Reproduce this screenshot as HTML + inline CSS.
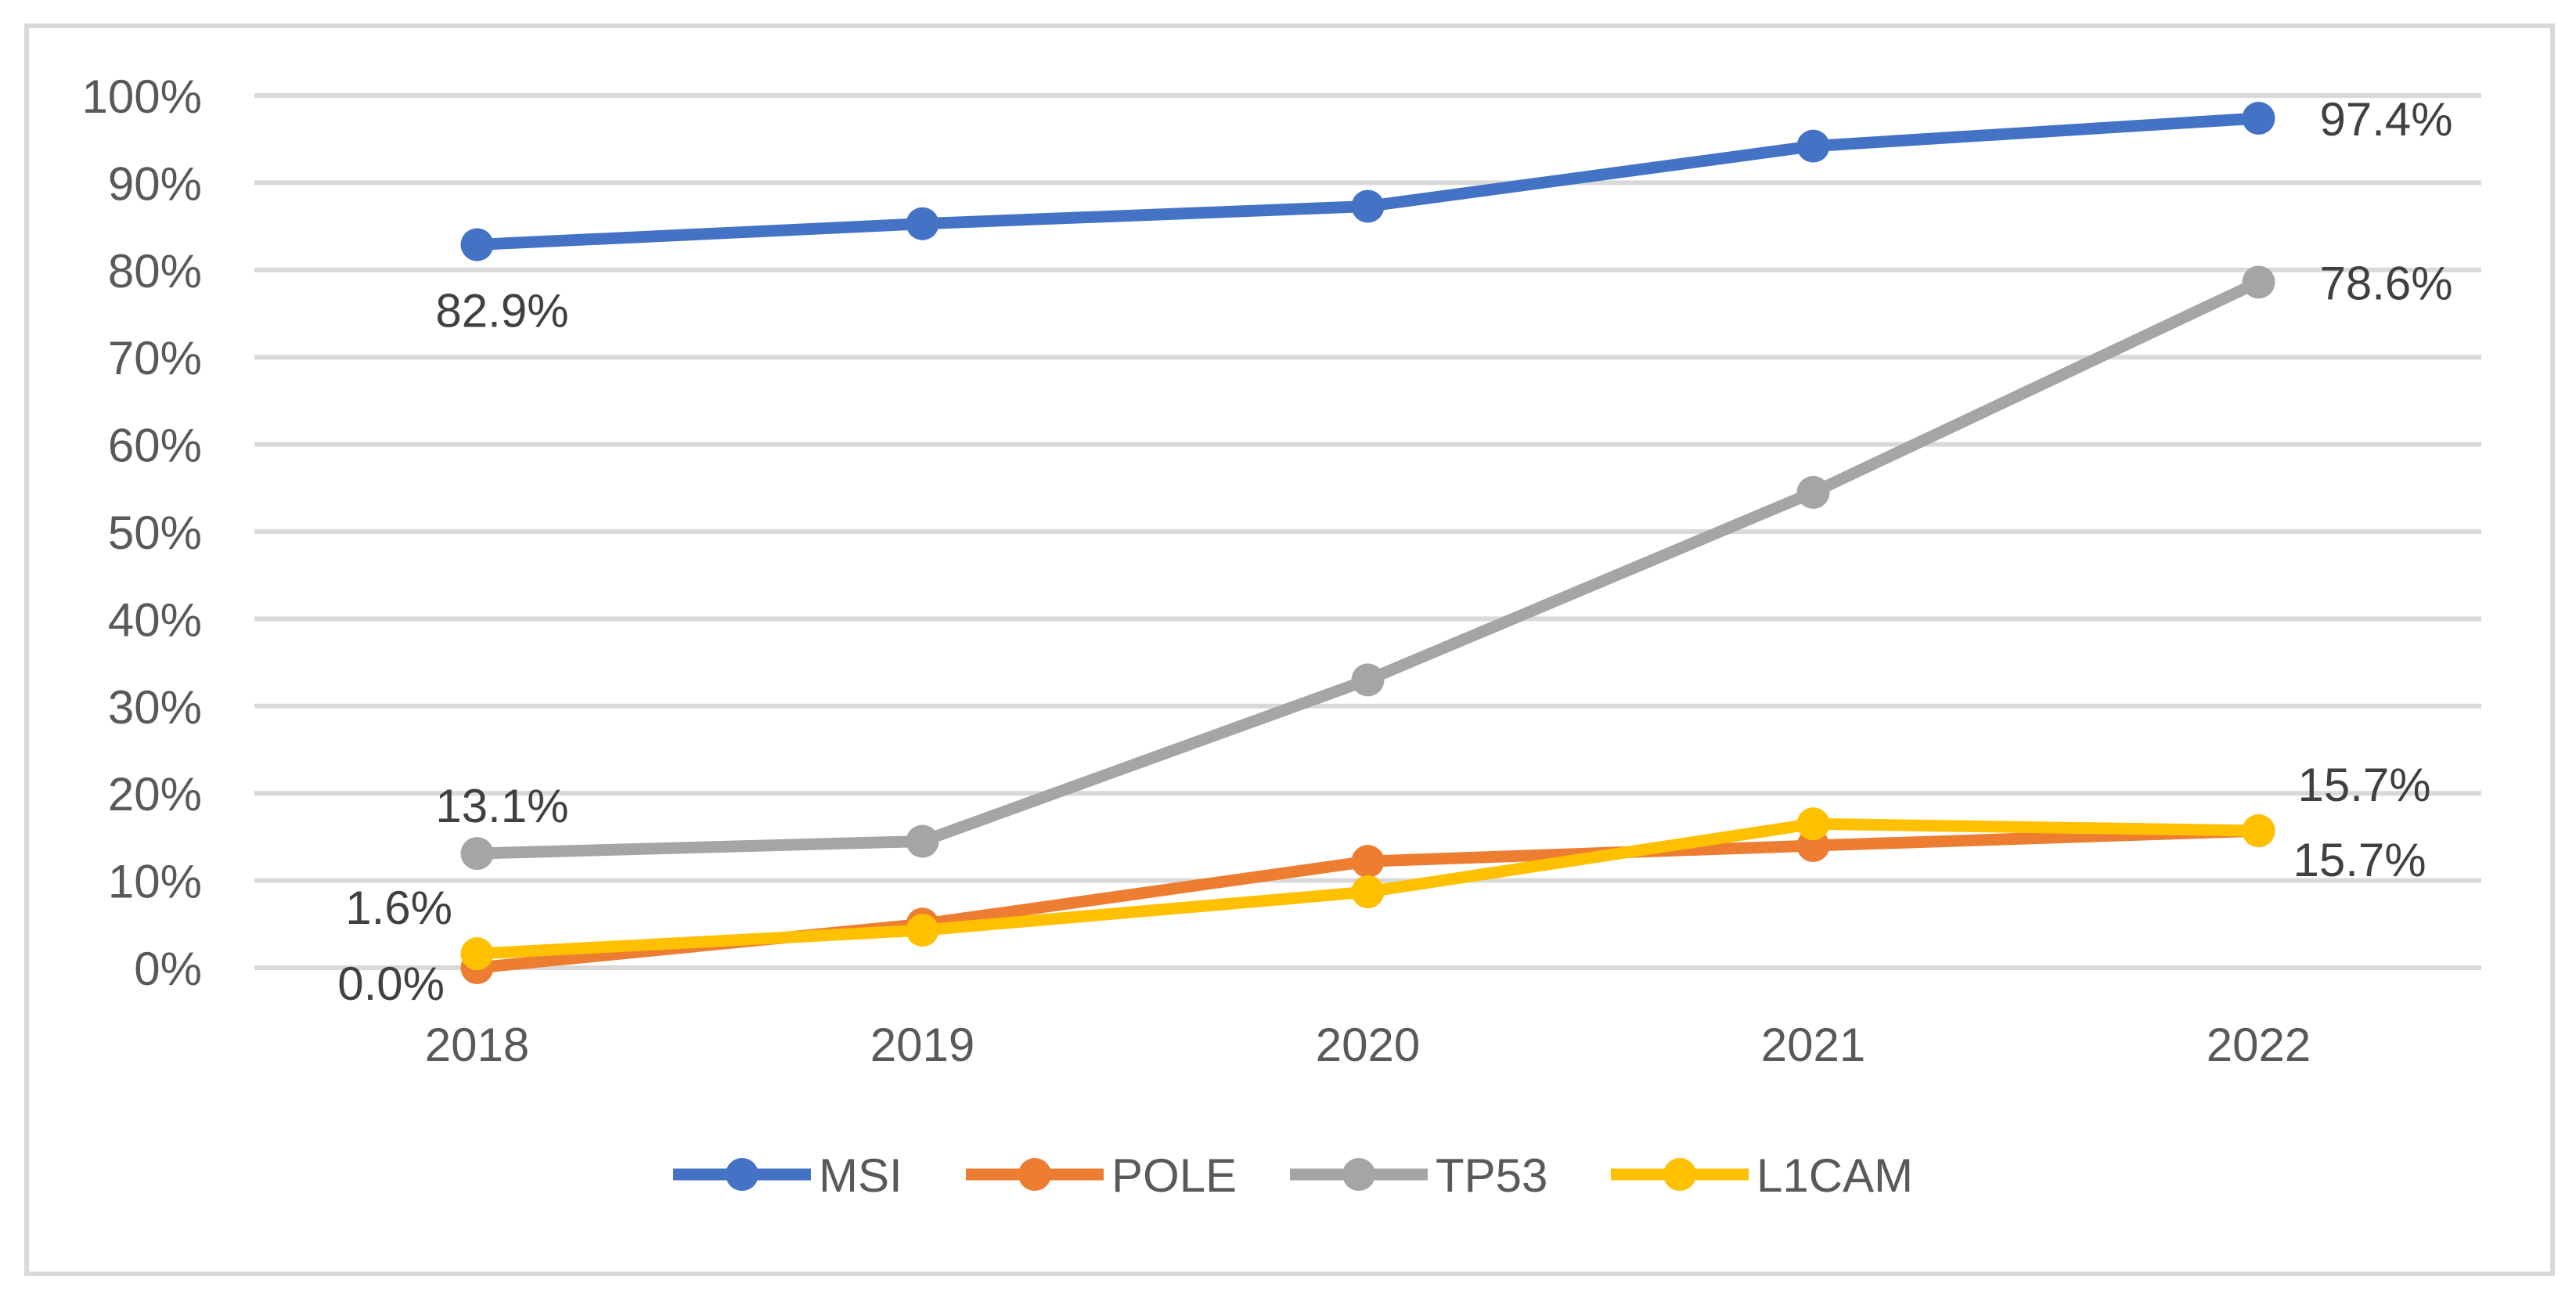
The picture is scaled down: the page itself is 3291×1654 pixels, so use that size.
<!DOCTYPE html>
<html><head><meta charset="utf-8">
<style>
html,body{margin:0;padding:0;background:#fff;}
svg{display:block;font-family:"Liberation Sans",sans-serif;}
</style></head>
<body>
<svg id="chart" width="3291" height="1654" viewBox="0 0 3291 1654" xmlns="http://www.w3.org/2000/svg">
<rect x="34" y="33" width="3227" height="1594" fill="#fff" stroke="#d9d9d9" stroke-width="6"/>
<g id="grid"></g>
<g id="yticks"></g>
<g id="xticks"></g>
<g id="series"></g>
<g id="labels"></g>
<g id="legend"></g>
</svg>
<script>
const categories = ["2018","2019","2020","2021","2022"];
const seriesNames = ["MSI","POLE","TP53","L1CAM"];
const msiValues = [82.9, 85.3, 87.3, 94.2, 97.4];
const poleValues = [0.0, 5.0, 12.2, 14.0, 15.7];
const tp53Values = [13.1, 14.5, 33.0, 54.5, 78.6];
const l1camValues = [1.6, 4.3, 8.7, 16.5, 15.7];
const yTicks = [0,10,20,30,40,50,60,70,80,90,100];

const NS = "http://www.w3.org/2000/svg";
const plotL = 325, plotR = 3170, yTop = 122, yBot = 1236;
const step = (plotR - plotL) / categories.length;
const FS = 60;
function xPos(i){ return plotL + step * (i + 0.5); }
function yPos(v){ return yBot - (v / 100) * (yBot - yTop); }
function mk(tag, attrs, parent){
  const e = document.createElementNS(NS, tag);
  for (const k in attrs) e.setAttribute(k, attrs[k]);
  parent.appendChild(e);
  return e;
}
const grid = document.getElementById('grid');
const yt = document.getElementById('yticks');
yTicks.forEach(t => {
  const l = mk('line', {x1:plotL, x2:plotR, y1:yPos(t), y2:yPos(t), stroke:'#d9d9d9', 'stroke-width':6}, grid);
  
  
  const tx = mk('text', {x:258, y:yPos(t)+22, 'text-anchor':'end', 'font-size':FS, fill:'#595959'}, yt);
  tx.textContent = t + '%';
  
  
});
const xt = document.getElementById('xticks');
categories.forEach((c, i) => {
  const tx = mk('text', {x:xPos(i), y:1355, 'text-anchor':'middle', 'font-size':FS, fill:'#595959'}, xt);
  tx.textContent = c;
  
  
});
const colors = ["#4472c4","#ed7d31","#a5a5a5","#ffc000"];
const allValues = [msiValues, poleValues, tp53Values, l1camValues];
const order = [0, 2, 1, 3];
const sg = document.getElementById('series');
order.forEach(si => {
  const vals = allValues[si];
  const g = mk('g', {}, sg);
  
  
  const pts = vals.map((v, i) => xPos(i) + ',' + yPos(v)).join(' ');
  const pl = mk('polyline', {points:pts, fill:'none', stroke:colors[si], 'stroke-width':15, 'stroke-linejoin':'round'}, g);
  
  
  vals.forEach((v, i) => {
    const c = mk('circle', {cx:xPos(i), cy:yPos(v), r:21, fill:colors[si]}, g);
    
    
  });
});
const lg = document.getElementById('labels');
function lab(txt, x, y, anchor){
  const t = mk('text', {x:x, y:y, 'text-anchor':anchor, 'font-size':FS, fill:'#404040'}, lg);
  t.textContent = txt;
  
  
}
const last = categories.length - 1;
lab(msiValues[0].toFixed(1)+'%', xPos(0)+32, yPos(msiValues[0])+105, 'middle');
lab(msiValues[last].toFixed(1)+'%', xPos(last)+78, yPos(msiValues[last])+22, 'start');
lab(tp53Values[last].toFixed(1)+'%', xPos(last)+78, yPos(tp53Values[last])+22, 'start');
lab(tp53Values[0].toFixed(1)+'%', xPos(0)+32, yPos(tp53Values[0])-40, 'middle');
lab(l1camValues[0].toFixed(1)+'%', 578, 1180, 'end');
lab(poleValues[0].toFixed(1)+'%', 568, 1277, 'end');
lab(l1camValues[last].toFixed(1)+'%', xPos(last)+50, yPos(l1camValues[last])-38, 'start');
lab(poleValues[last].toFixed(1)+'%', xPos(last)+44, yPos(poleValues[last])+58, 'start');

const leg = document.getElementById('legend');
const legX = [860, 1234, 1648, 2058];
seriesNames.forEach((n, i) => {
  const g = mk('g', {}, leg);
  
  
  mk('line', {x1:legX[i], x2:legX[i]+176, y1:1500, y2:1500, stroke:colors[i], 'stroke-width':15}, g);
  mk('circle', {cx:legX[i]+88, cy:1500, r:21, fill:colors[i]}, g);
  const t = mk('text', {x:legX[i]+186, y:1522, 'font-size':FS, fill:'#595959'}, g);
  t.textContent = n;
});
</script>
</body></html>
